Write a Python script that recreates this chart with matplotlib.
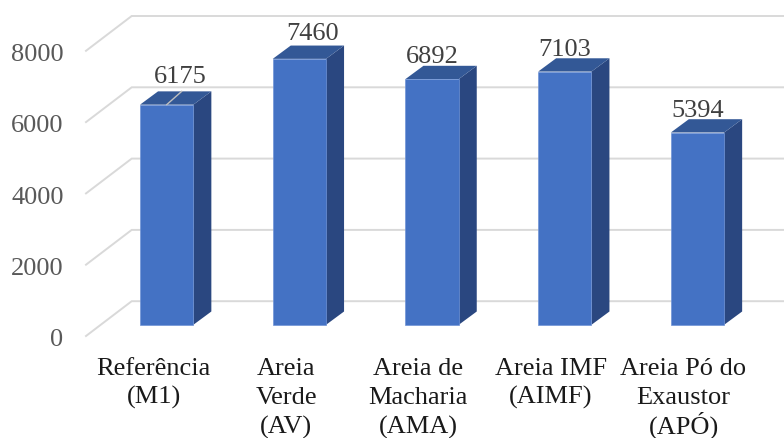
import matplotlib
matplotlib.use('Agg')
import matplotlib.pyplot as plt
from matplotlib.patches import Polygon

categories = ['Referência\n(M1)', 'Areia\nVerde\n(AV)', 'Areia de\nMacharia\n(AMA)', 'Areia IMF\n(AIMF)', 'Areia Pó do\nExaustor\n(APÓ)']
values = [6175, 7460, 6892, 7103, 5394]
y_ticks = [0, 2000, 4000, 6000, 8000]

# pixel scale of the picture, used to place the fake 3d faces
px_x = 132.7
px_y = 0.03565
w, h = 784, 439
x0, y0 = 166.7, 325.8

def dx(p):
    return p / px_x

def dy(p):
    return p * 1 / px_y

plt.rcParams['font.family'] = ['Liberation Serif', 'DejaVu Serif']
fig = plt.figure(figsize=(w / 100, h / 100), dpi=100)
ax = fig.add_axes([0, 0, 1, 1])
ax.set_xlim(-x0 / px_x, (w - x0) / px_x)
ax.set_ylim(-(h - y0) / px_y, y0 / px_y)
ax.axis('off')

grid_color = '#D9D9D9'
left = dx(86 - x0)
back = dx(131.7 - x0)
for t in y_ticks:
    front_y = t - dy(11.2)
    back_y = t + dy(23.6)
    ax.plot([left, back, ax.get_xlim()[1]], [front_y, back_y, back_y], color=grid_color, lw=1.4, zorder=1, solid_joinstyle='miter')
    ax.text(dx(63.5 - x0), front_y - dy(9.3), str(t), ha='right', va='baseline', fontsize=19, color='#595959')

bar_w = 53.3 / px_x
depth_x = dx(18)
depth_y = dy(13.3)
xs = list(range(len(values)))
ax.bar(xs, values, width=bar_w, color='#4472C4', edgecolor='#6F93D6', linewidth=0.5, zorder=3)
for x, v in zip(xs, values):
    l, r = x - bar_w / 2, x + bar_w / 2
    ax.add_patch(Polygon([(r, 0), (r + depth_x, depth_y), (r + depth_x, v + depth_y), (r, v)], color='#2A4780', lw=0, zorder=2.5))
    ax.add_patch(Polygon([(l, v), (l + depth_x, v + depth_y), (r + depth_x, v + depth_y), (r, v)], color='#335896', lw=0, zorder=2.5))

# label nudges in pixels, the first two were moved off the bar
label_dx = [14, 13, 0, 0, 0]
label_dy = [23, 20, 17, 17, 17]
for x, v, ox, oy in zip(xs, values, label_dx, label_dy):
    ax.text(x + dx(ox), v + dy(oy), str(v), ha='center', va='baseline', fontsize=19, color='#404040', zorder=5)

# leader line of the first label
ax.plot([0, dx(15)], [values[0], values[0] + dy(13.3)], color='#BFBFBF', lw=1, zorder=4)

# one text per line, the spacing of a multiline text came out uneven
cat_dx = [-13, -13, -14, -14, -14]
for x, c, ox in zip(xs, categories, cat_dx):
    for i, line in enumerate(c.split('\n')):
        ax.text(x + dx(ox), -dy(49 + 29.2 * i), line, ha='center', va='baseline', fontsize=19, color='#1A1A1A')

fig.savefig('out.png', dpi=100, facecolor='white')
